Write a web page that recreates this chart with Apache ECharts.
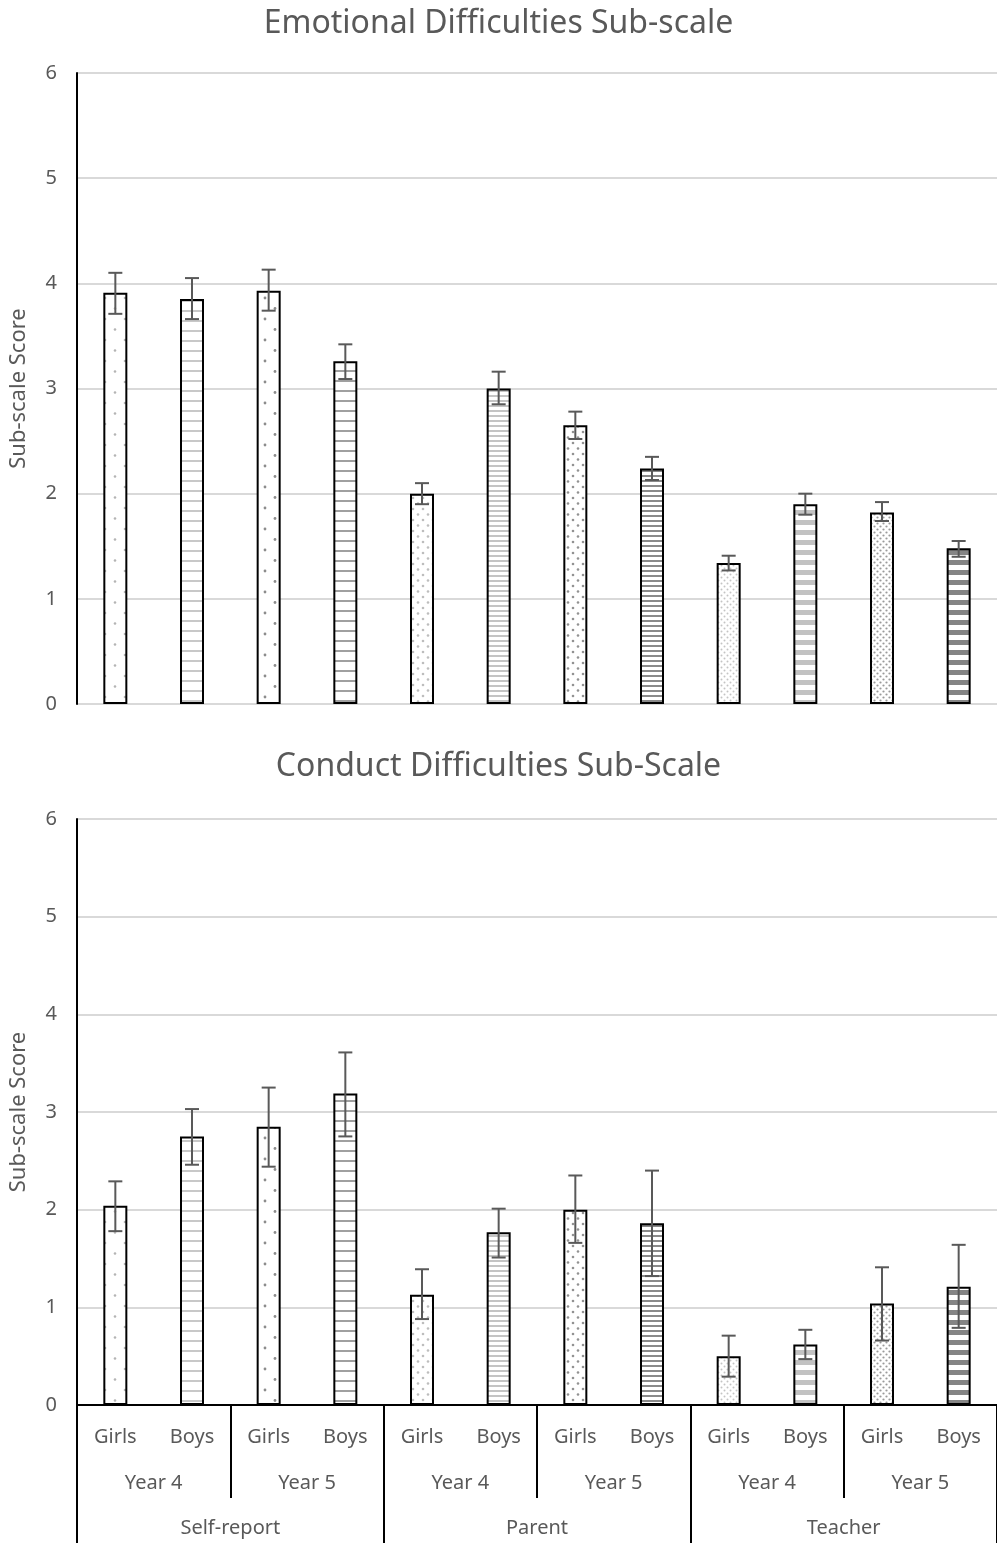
<!DOCTYPE html>
<html>
<head>
<meta charset="utf-8">
<script src="https://cdn.jsdelivr.net/npm/echarts@6/dist/echarts.min.js"></script>
<style>
  html, body { margin: 0; padding: 0; background: #fff; }
  #chart { width: 997px; height: 1543px; }
</style>
</head>
<body>
<div id="chart"></div>
<script>
// bar labels, year and informant groups
const categories = ['Girls', 'Boys', 'Girls', 'Boys', 'Girls', 'Boys', 'Girls', 'Boys', 'Girls', 'Boys', 'Girls', 'Boys'];
const years = ['Year 4', 'Year 5', 'Year 4', 'Year 5', 'Year 4', 'Year 5'];
const groups = ['Self-report', 'Parent', 'Teacher'];

// Emotional difficulties: mean and error bar ends
const emoMean = [3.91, 3.85, 3.93, 3.26, 2.00, 3.00, 2.65, 2.24, 1.34, 1.90, 1.82, 1.48];
const emoLow = [3.71, 3.66, 3.74, 3.09, 1.90, 2.85, 2.52, 2.13, 1.27, 1.80, 1.74, 1.40];
const emoHigh = [4.10, 4.05, 4.13, 3.42, 2.10, 3.16, 2.78, 2.35, 1.41, 2.00, 1.92, 1.55];

// Conduct difficulties
const conMean = [2.04, 2.75, 2.85, 3.19, 1.13, 1.77, 2.00, 1.86, 0.50, 0.62, 1.04, 1.21];
const conLow = [1.78, 2.46, 2.44, 2.75, 0.88, 1.51, 1.66, 1.32, 0.29, 0.47, 0.66, 0.79];
const conHigh = [2.29, 3.03, 3.25, 3.61, 1.39, 2.01, 2.35, 2.40, 0.71, 0.77, 1.41, 1.64];

const FONT = '"Noto Sans", "Open Sans", sans-serif';
const GREY = '#595959';

// fill patterns (canvas tiles)
function dotTile(w, h, pts, color, r) {
  const c = document.createElement('canvas');
  c.width = w; c.height = h;
  const ctx = c.getContext('2d');
  ctx.fillStyle = '#fff';
  ctx.fillRect(0, 0, w, h);
  ctx.fillStyle = color;
  pts.forEach(p => {
    ctx.beginPath();
    ctx.arc(p[0], p[1], r, 0, Math.PI * 2);
    ctx.fill();
  });
  return { image: c, repeat: 'repeat' };
}
function stripeTile(period, thick, color) {
  const c = document.createElement('canvas');
  c.width = 8; c.height = period;
  const ctx = c.getContext('2d');
  ctx.fillStyle = '#fff';
  ctx.fillRect(0, 0, 8, period);
  ctx.fillStyle = color;
  ctx.fillRect(0, 0, 8, thick);
  return { image: c, repeat: 'repeat' };
}

const patterns = [
  dotTile(20, 21, [[5, 4], [15, 14.5]], '#b4b4b4', 1.3),
  stripeTile(10, 2, '#c8c8c8'),
  dotTile(20, 21, [[5, 4], [15, 14.5]], '#8c8c8c', 1.4),
  stripeTile(10, 2, '#a0a0a0'),
  dotTile(10, 11, [[3, 3], [8, 8.5]], '#bdbdbd', 1.3),
  stripeTile(5, 2, '#c4c4c4'),
  dotTile(10, 11, [[3, 3], [8, 8.5]], '#929292', 1.3),
  stripeTile(5, 2, '#8a8a8a'),
  dotTile(6, 6, [[1.5, 1.5], [4.5, 4.5]], '#c4c4c4', 1.0),
  stripeTile(10, 5, '#c2c2c2'),
  dotTile(6, 6, [[1.5, 1.5], [4.5, 4.5]], '#9a9a9a', 1.1),
  stripeTile(10, 5, '#858585')
];

function barData(values) {
  return values.map((v, i) => ({
    value: v,
    itemStyle: { color: patterns[i] }
  }));
}
function errData(low, high) {
  return low.map((l, i) => [i, l, high[i]]);
}

function errorRender(params, api) {
  const x = api.value(0);
  const lo = api.coord([x, api.value(1)]);
  const hi = api.coord([x, api.value(2)]);
  const w = 7;
  const style = { stroke: GREY, lineWidth: 2 };
  return {
    type: 'group',
    children: [
      { type: 'line', shape: { x1: hi[0], y1: hi[1], x2: lo[0], y2: lo[1] }, style: style },
      { type: 'line', shape: { x1: hi[0] - w, y1: hi[1], x2: hi[0] + w, y2: hi[1] }, style: style },
      { type: 'line', shape: { x1: lo[0] - w, y1: lo[1], x2: lo[0] + w, y2: lo[1] }, style: style }
    ]
  };
}

function yAxis(gridIndex) {
  return {
    type: 'value',
    gridIndex: gridIndex,
    min: 0,
    max: 6,
    interval: 1,
    name: 'Sub-scale Score',
    nameLocation: 'middle',
    nameGap: 47,
    nameTextStyle: { color: GREY, fontSize: 22, fontFamily: FONT },
    axisLine: { show: true, lineStyle: { color: '#000', width: 2 } },
    axisTick: { show: false },
    axisLabel: { color: GREY, fontSize: 20, fontFamily: FONT, margin: 20 },
    splitLine: { lineStyle: { color: '#d9d9d9', width: 2 } }
  };
}

const labelStyle = { color: GREY, fontSize: 20, fontFamily: FONT, interval: 0 };

const chart = echarts.init(document.getElementById('chart'));
chart.setOption({
  animation: false,
  backgroundColor: '#fff',
  title: [
    {
      text: 'Emotional Difficulties Sub-scale',
      left: 'center', top: 3,
      textStyle: { color: GREY, fontSize: 32, fontWeight: 'normal', fontFamily: FONT }
    },
    {
      text: 'Conduct Difficulties Sub-Scale',
      left: 'center', top: 746,
      textStyle: { color: GREY, fontSize: 32, fontWeight: 'normal', fontFamily: FONT }
    }
  ],
  grid: [
    { left: 77, right: -2, top: 73, height: 631 },
    { left: 77, right: -2, top: 819, height: 586 }
  ],
  xAxis: [
    {
      type: 'category', gridIndex: 0, data: categories,
      axisLine: { show: false }, axisTick: { show: false }, axisLabel: { show: false }
    },
    {
      type: 'category', gridIndex: 1, data: categories,
      axisLine: { show: true, lineStyle: { color: '#000', width: 2 } },
      axisTick: { show: false },
      axisLabel: Object.assign({ margin: 22 }, labelStyle)
    },
    {
      type: 'category', gridIndex: 1, data: years, position: 'bottom',
      axisLine: { show: false },
      axisTick: { show: true, interval: 0, length: 93, lineStyle: { color: '#000', width: 2 } },
      axisLabel: Object.assign({ margin: 68 }, labelStyle)
    },
    {
      type: 'category', gridIndex: 1, data: groups, position: 'bottom',
      axisLine: { show: false },
      axisTick: { show: true, interval: 0, length: 140, lineStyle: { color: '#000', width: 2 } },
      axisLabel: Object.assign({ margin: 113 }, labelStyle)
    }
  ],
  yAxis: [yAxis(0), yAxis(1)],
  series: [
    {
      type: 'bar', xAxisIndex: 0, yAxisIndex: 0, barWidth: 24,
      itemStyle: { borderColor: '#000', borderWidth: 2 },
      data: barData(emoMean)
    },
    {
      type: 'custom', xAxisIndex: 0, yAxisIndex: 0,
      renderItem: errorRender, encode: { x: 0, y: [1, 2] }, z: 10,
      data: errData(emoLow, emoHigh)
    },
    {
      type: 'bar', xAxisIndex: 1, yAxisIndex: 1, barWidth: 24,
      itemStyle: { borderColor: '#000', borderWidth: 2 },
      data: barData(conMean)
    },
    {
      type: 'custom', xAxisIndex: 1, yAxisIndex: 1,
      renderItem: errorRender, encode: { x: 0, y: [1, 2] }, z: 10,
      data: errData(conLow, conHigh)
    }
  ]
});
</script>
</body>
</html>
